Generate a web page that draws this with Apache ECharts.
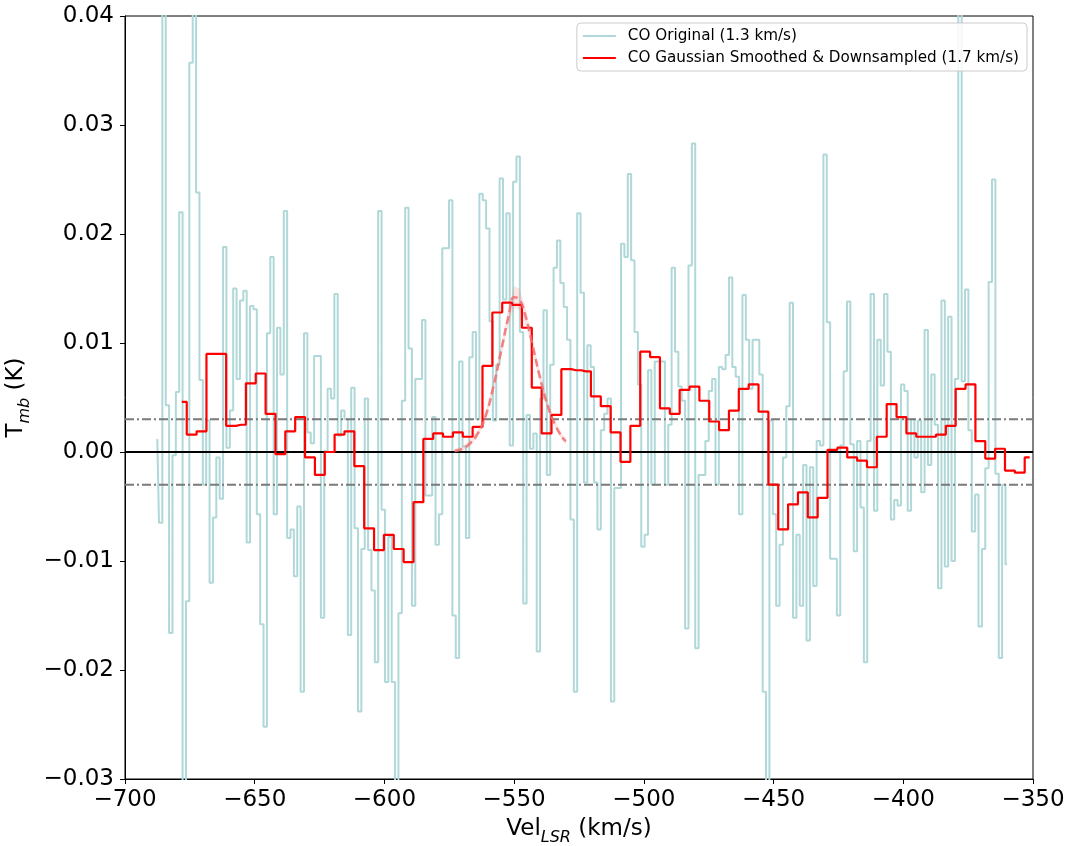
<!DOCTYPE html>
<html><head><meta charset="utf-8">
<script src="https://cdn.jsdelivr.net/npm/echarts@6/dist/echarts.min.js"></script>
<style>html,body{margin:0;padding:0;background:#fff}#c{width:1071px;height:846px}</style>
</head><body><div id="c"></div>
<script>
// ---- data ----
const coStart = -687.55;   // centre of first CO channel (km/s)
const coWidth = 1.3;       // channel width (km/s)
const coValues = [
 0.0012,-0.0065,0.045,0.0043,-0.0166,-0.0003,0.0055,0.022,-0.035,-0.0137,
 0.0357,0.045,0.0238,0.0066,-0.003,0.0029,-0.012,-0.006,-0.0005,-0.0043,
 0.0188,0.0004,0.0038,0.015,0.0067,0.0139,0.0148,-0.0083,0.0134,0.0131,
 -0.0057,-0.0158,-0.0252,0.0109,0.0179,-0.0057,0.0114,0.0071,0.0221,-0.0079,
 -0.0071,-0.0114,-0.005,-0.022,0.0109,0.0018,0.0008,0.0088,0.0088,-0.0152,
 0.0001,0.0058,0.0049,0.0145,0.0015,0.0038,0.0030,-0.0168,0.0059,-0.0070,
 -0.0238,-0.0089,0.0049,-0.0090,-0.0127,-0.0193,0.0221,-0.0053,-0.0211,-0.0078,
 -0.0211,-0.035,-0.0148,0.0047,0.0224,0.0095,-0.0141,0.0067,0.0067,0.0121,
 -0.004,-0.004,0.0032,-0.0085,-0.0057,0.0187,0.0187,0.0231,-0.015,-0.0189,
 0.0083,0.0005,-0.0079,0.0087,0.011,0.003,0.0237,0.0231,0.0205,0.012,
 0.0029,0.008,0.0251,0.014,0.0219,0.0006,0.0248,0.0271,0.011,-0.0139,
 0.0034,0.0003,0.0017,-0.0183,0.0049,0.013,-0.0021,0.008,0.0169,0.0194,
 0.0155,0.0133,0.0103,-0.0062,-0.022,0.0219,0.0146,-0.0028,0.0098,0.0078,
 -0.0028,-0.0071,0.002,0.0035,0.0049,-0.0229,-0.0033,-0.0033,0.0191,0.0179,
 0.0255,0.0176,0.011,0.0062,-0.0087,-0.0076,0.0075,-0.003,0.0083,0.0083,
 0.0083,-0.003,0.0025,0.0169,0.0092,0.006,0.0047,-0.0162,0.0171,0.0283,
 -0.018,-0.0021,-0.0021,0.001,0.0056,0.0067,-0.003,0.0078,0.0076,0.0089,
 0.016,0.0078,0.0069,-0.0057,0.0144,0.0103,0.0058,0.0103,0.0103,0.0071,
 -0.022,-0.035,0.0029,-0.0057,-0.0141,-0.0085,-0.0005,0.0042,0.0137,-0.0152,
 -0.0076,-0.0141,-0.0012,-0.0173,-0.0014,-0.0123,0.001,0.0006,0.0273,0.0119,
 -0.0098,-0.0098,-0.015,0.0006,0.0074,0.0138,0.0007,-0.0091,0.001,-0.0051,
 -0.0193,0.001,0.0145,-0.0054,0.0103,0.0061,0.0145,0.0092,-0.0062,-0.0044,
 -0.0049,0.0062,0.0056,-0.0054,0.003,-0.0005,0.0029,-0.0037,0.0112,-0.0012,
 0.0071,0.0025,-0.0125,0.0139,-0.0105,0.0124,-0.01,0.0067,0.045,0.0065,
 0.0149,0.002,-0.0073,-0.0039,-0.016,-0.0089,-0.0015,0.0156,0.025,-0.002,
 -0.0189,-0.003,-0.0103
];
const smStart = -678.1;   // centre of first smoothed channel (km/s)
const smWidth = 3.8;
const smValues = [
 0.0046,0.0016,0.0019,0.009,0.009,0.0024,0.0025,0.0063,0.0072,0.0035,
 -0.0002,0.0019,0.0032,-0.0005,-0.0021,0.0,0.0016,0.0019,-0.0013,-0.007,
 -0.009,-0.0076,-0.0089,-0.0101,-0.0046,0.0012,0.0017,0.0014,0.0018,0.0014,
 0.0023,0.0079,0.0128,0.0137,0.0135,0.0114,0.0059,0.0017,0.0034,0.0076,
 0.0075,0.0074,0.0051,0.0042,0.0018,-0.0009,0.0024,0.0092,0.0087,0.004,
 0.0035,0.0057,0.006,0.0047,0.0028,0.002,0.0038,0.0058,0.0062,0.0037,
 -0.003,-0.0071,-0.0048,-0.0037,-0.006,-0.0042,0.0002,0.0004,-0.0005,-0.0008,
 -0.0014,0.0014,0.0044,0.0032,0.0017,0.0014,0.0014,0.0016,0.0024,0.0058,
 0.0062,0.001,-0.0006,0.0003,-0.0017,-0.0019,-0.0005
];
const fitVel = [-573,-570,-567,-564,-561,-558,-555,-552,-550,-548,-546,-543,-540,-537,-534,-531,-530];
const fitT   = [0.0001,0.0003,0.0008,0.0017,0.0033,0.0060,0.0093,0.0126,0.0142,0.0140,0.0128,0.0099,0.0068,0.0042,0.0024,0.0012,0.0010];
const fitErr = [0.0002,0.0002,0.0003,0.0003,0.0004,0.0005,0.0006,0.0008,0.0010,0.0010,0.0008,0.0006,0.0005,0.0004,0.0003,0.0003,0.0003];
const zeroLevel = 0;
const noiseLevels = [0.003, -0.003];
const xTicks = [-700,-650,-600,-550,-500,-450,-400,-350];
const yTicks = [-0.03,-0.02,-0.01,0.00,0.01,0.02,0.03,0.04];
const nameCO = 'CO Original (1.3 km/s)';
const nameSM = 'CO Gaussian Smoothed & Downsampled (1.7 km/s)';

// ---- chart ----
const FONT = 'DejaVu Sans';
const minus = s => s.replace('-', '\u2212');
const chart = echarts.init(document.getElementById('c'), null, {renderer: 'canvas'});
const coData = coValues.map((v, i) => [coStart + i * coWidth, v]);
const smData = smValues.map((v, i) => [smStart + i * smWidth, v]);
const fitData = fitVel.map((v, i) => [v, fitT[i]]);
const xMin = xTicks[0], xMax = xTicks[xTicks.length - 1];
const hLine = (name, level, style, z) => ({
  name, type: 'line', data: [[xMin, level], [xMax, level]], symbol: 'none', showSymbol: false,
  lineStyle: style, z, silent: true
});
const richTitle = {
  a: {fontFamily: FONT, fontSize: 23, color: '#000', lineHeight: 28, verticalAlign: 'bottom'},
  b: {fontFamily: FONT, fontSize: 16, fontStyle: 'italic', color: '#000', lineHeight: 22, verticalAlign: 'bottom', padding: [0,0,-5,0]}
};

chart.setOption({
  animation: false,
  backgroundColor: '#fff',
  grid: {left: 125, top: 16, width: 908, height: 763, show: true, borderColor: '#000', borderWidth: 1,
         containLabel: false, outerBoundsMode: 'none'},
  legend: {
    orient: 'vertical', right: 44, top: 23,
    data: [nameCO, nameSM],
    icon: 'rect', itemWidth: 33, itemHeight: 2, itemGap: 6,
    padding: [5, 8, 5, 6],
    borderColor: '#cccccc', borderWidth: 1, borderRadius: 4,
    backgroundColor: 'rgba(255,255,255,0.85)',
    textStyle: {fontFamily: FONT, fontSize: 15.2, color: '#000', lineHeight: 16, padding: [0, 0, 0, 7]}
  },
  xAxis: {
    type: 'value', min: xMin, max: xMax, interval: xTicks[1] - xTicks[0],
    splitLine: {show: false},
    axisLine: {show: true, onZero: false, lineStyle: {color: '#000', width: 1}},
    axisTick: {show: true, inside: false, length: 5, lineStyle: {color: '#000', width: 1}},
    axisLabel: {fontFamily: FONT, fontSize: 23, color: '#000', margin: 10, formatter: v => minus(String(v))},
    name: '{a|Vel}{b|LSR}{a| (km/s)}', nameLocation: 'middle', nameGap: 34,
    nameTextStyle: {rich: richTitle}
  },
  yAxis: {
    type: 'value', min: yTicks[0], max: yTicks[yTicks.length - 1], interval: 0.01,
    splitLine: {show: false},
    axisLine: {show: true, onZero: false, lineStyle: {color: '#000', width: 1}},
    axisTick: {show: true, inside: false, length: 5, lineStyle: {color: '#000', width: 1}},
    axisLabel: {fontFamily: FONT, fontSize: 23, color: '#000', margin: 11,
      formatter: v => minus((Math.round(v * 100) / 100).toFixed(2))},
    name: '{a|T}{b|mb}{a| (K)}', nameLocation: 'middle', nameGap: 78, nameRotate: 90,
    nameTextStyle: {rich: richTitle}
  },
  series: [
    {
      name: nameCO, type: 'line', step: 'middle', data: coData, symbol: 'none', showSymbol: false,
      color: '#b0d8d8', lineStyle: {color: '#b0d8d8', width: 2}, z: 2, silent: true
    },
    hLine('noise+', noiseLevels[0], {color: '#7a7a7a', width: 2, type: [9, 3, 2, 3]}, 3),
    hLine('noise-', noiseLevels[1], {color: '#7a7a7a', width: 2, type: [9, 3, 2, 3]}, 3),
    hLine('zero', zeroLevel, {color: '#000', width: 1.8, type: 'solid'}, 3),
    {
      name: 'band', type: 'custom', data: fitData, z: 4, silent: true,
      renderItem: (params, api) => {
        if (params.dataIndex !== 0) return null;
        const up = fitVel.map((v, i) => api.coord([v, fitT[i] + fitErr[i]]));
        const lo = fitVel.map((v, i) => api.coord([v, fitT[i] - fitErr[i]])).reverse();
        return {type: 'polygon', shape: {points: up.concat(lo)}, style: {fill: 'rgba(255,90,90,0.16)'}};
      }
    },
    {
      name: nameSM, type: 'line', step: 'middle', data: smData, symbol: 'none', showSymbol: false,
      color: '#ff0000', lineStyle: {color: '#ff0000', width: 2.2}, z: 5, silent: true
    },
    {
      name: 'fit', type: 'line', smooth: true, data: fitData, symbol: 'none', showSymbol: false,
      lineStyle: {color: 'rgba(240,110,110,0.85)', width: 2.5, type: [8, 4]}, z: 6, silent: true
    }
  ]
});
</script></body></html>
